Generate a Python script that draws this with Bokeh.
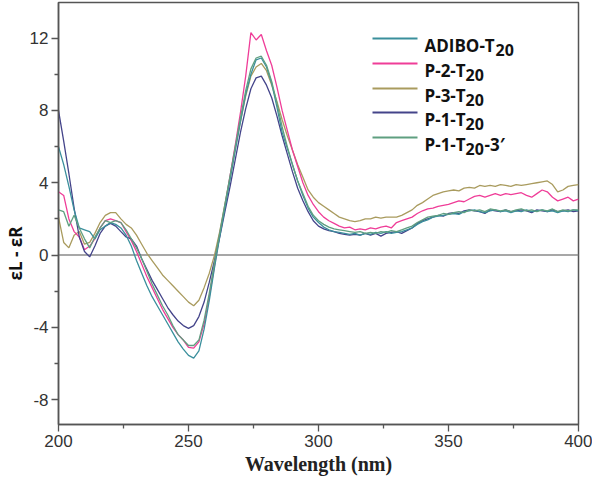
from bokeh.plotting import figure
from bokeh.models import Range1d, FixedTicker, Span, Label, Title
from bokeh.embed import file_html
from bokeh.resources import INLINE

# ---------------- data ----------------
wavelength = list(range(200, 401, 2))

adibo_t20 = [
    6.0, 5.0, 3.8, 2.5, 1.5, 1.4, 1.3, 0.9, 1.4, 1.6,
    1.8, 1.7, 1.5, 1.1, 0.5, -0.3, -1.0, -1.7, -2.3, -2.8,
    -3.3, -3.8, -4.3, -4.8, -5.2, -5.55, -5.7, -5.3, -4.1, -2.5,
    -0.7, 1.0, 2.6, 4.2, 5.8, 7.4, 8.9, 10.0, 10.8, 10.9,
    10.4, 9.5, 8.2, 6.8, 5.9, 5.0, 4.1, 3.3, 2.6, 2.1,
    1.8, 1.55, 1.4, 1.3, 1.25, 1.2, 1.15, 1.2, 1.1, 1.2,
    1.15, 1.25, 1.2, 1.3, 1.2, 1.25, 1.3, 1.4, 1.5, 1.7,
    1.85, 1.95, 2.1, 2.15, 2.2, 2.25, 2.3, 2.25, 2.4, 2.45,
    2.5, 2.4, 2.35, 2.45, 2.5, 2.4, 2.45, 2.35, 2.45, 2.4,
    2.5, 2.4, 2.45, 2.5, 2.4, 2.45, 2.35, 2.45, 2.4, 2.5,
    2.45,
]

p2_t20 = [
    3.5, 3.3, 2.0, 1.3, 1.0, 0.3, 0.5, 0.9, 1.5, 1.9,
    2.0, 1.9, 1.8, 1.3, 0.8, 0.2, -0.5, -1.2, -1.8, -2.4,
    -3.0, -3.5, -4.0, -4.4, -4.7, -5.1, -5.15, -4.8, -3.8, -2.3,
    -0.6, 1.1, 2.7, 4.4, 6.1, 7.9, 9.9, 12.3, 11.9, 12.2,
    11.3, 10.5, 9.3, 8.0, 6.9, 5.8, 4.9, 4.0, 3.3, 2.8,
    2.4, 2.1, 1.9, 1.75, 1.6, 1.5, 1.55, 1.4, 1.45, 1.4,
    1.5, 1.45, 1.55, 1.6, 1.5, 1.8, 1.9, 2.0, 2.1, 2.3,
    2.45, 2.55, 2.6, 2.7, 2.75, 2.8, 2.9, 3.0, 2.95, 3.1,
    3.25, 3.3, 3.2, 3.3, 3.4, 3.3, 3.4, 3.35, 3.4, 3.45,
    3.3, 3.2, 3.4, 3.6, 3.5, 3.2, 3.0, 3.1, 3.2, 3.0,
    3.1,
]

p3_t20 = [
    2.1, 0.7, 0.4, 1.1, 1.3, 0.6, 0.7, 1.2, 1.8, 2.2,
    2.35, 2.35, 2.0, 1.7, 1.5, 1.1, 0.6, 0.1, -0.3, -0.7,
    -1.1, -1.4, -1.7, -2.0, -2.3, -2.6, -2.8, -2.5, -1.8, -1.0,
    0.0, 1.3, 2.8, 4.3, 5.9, 7.4, 8.8, 9.9, 10.4, 10.6,
    10.2, 9.4, 8.5, 7.5, 6.6, 5.8, 5.0, 4.3, 3.6, 3.2,
    2.9, 2.7, 2.5, 2.3, 2.1, 2.0, 1.9, 1.85, 1.9, 2.0,
    2.0, 2.1, 2.05, 2.1, 2.1, 2.1, 2.2, 2.35, 2.5, 2.75,
    2.9, 3.1, 3.3, 3.4, 3.5, 3.55, 3.6, 3.55, 3.7, 3.75,
    3.7, 3.85, 3.8, 3.85, 3.8, 3.9, 3.85, 3.8, 3.9, 3.85,
    3.9, 3.95, 4.0, 4.05, 4.1, 3.9, 3.5, 3.6, 3.8, 3.85,
    3.9,
]

p1_t20 = [
    8.0, 6.3, 4.5, 2.6, 1.0, 0.2, -0.1, 0.5, 1.2, 1.6,
    1.75, 1.6, 1.3, 1.0, 0.9, 0.5, -0.2, -0.8, -1.4, -1.9,
    -2.4, -2.9, -3.3, -3.65, -3.9, -4.05, -3.9, -3.4, -2.6, -1.5,
    -0.3, 1.0, 2.4, 3.8, 5.3, 6.8, 8.1, 9.2, 9.8, 9.9,
    9.4, 8.7, 7.7, 6.6, 5.6, 4.6, 3.7, 3.0, 2.4, 1.9,
    1.6, 1.45, 1.35, 1.3, 1.2, 1.15, 1.1, 1.15, 1.1, 1.2,
    1.1, 1.2, 1.05, 1.2, 1.25, 1.3, 1.2, 1.35, 1.5, 1.75,
    1.9, 2.0, 2.1, 2.2, 2.15, 2.3, 2.35, 2.3, 2.45, 2.5,
    2.45, 2.4, 2.3, 2.5, 2.45, 2.4, 2.5, 2.4, 2.45, 2.5,
    2.45, 2.35, 2.5, 2.45, 2.4, 2.5, 2.4, 2.45, 2.5, 2.4,
    2.45,
]

p1_t20_3 = [
    2.5, 2.4, 1.6, 2.2, 1.5, 0.9, 0.4, 1.0, 1.5, 1.9,
    1.8, 1.9, 1.8, 1.4, 0.9, 0.4, -0.2, -0.9, -1.6, -2.2,
    -2.8, -3.3, -3.9, -4.4, -4.7, -5.0, -5.0, -4.7, -3.6, -2.1,
    -0.4, 1.2, 2.8, 4.4, 6.0, 7.6, 9.1, 10.3, 10.9, 11.0,
    10.5, 9.6, 8.4, 7.1, 6.0, 5.0, 4.1, 3.4, 2.7, 2.2,
    1.9, 1.7, 1.55, 1.45, 1.4, 1.35, 1.3, 1.25, 1.3, 1.2,
    1.25, 1.2, 1.3, 1.25, 1.35, 1.3, 1.4, 1.5, 1.6, 1.8,
    1.95, 2.1, 2.15, 2.2, 2.3, 2.25, 2.35, 2.4, 2.35, 2.5,
    2.45, 2.5, 2.4, 2.55, 2.5, 2.45, 2.5, 2.4, 2.5, 2.55,
    2.45, 2.5, 2.4, 2.5, 2.45, 2.55, 2.4, 2.5, 2.45, 2.5,
    2.5,
]

legend_main = ["ADIBO-T", "P-2-T", "P-3-T", "P-1-T", "P-1-T"]
legend_sub = ["20", "20", "20", "20", "20"]
legend_tail = ["", "", "", "", "-3\u2032"]

x_ticks = [200, 250, 300, 350, 400]
x_minor = [225, 275, 325, 375]
y_ticks = [-8, -4, 0, 4, 8, 12]
y_minor = [-6, -2, 2, 6, 10]

# ---------------- layout ----------------
W, H = 592, 480
BL, BR, BT, BB = 58, 14, 2, 56
X0, X1 = 200, 400
Y0, Y1 = -9.37, 13.97
FW = W - BL - BR
FH = H - BT - BB


def dx(px):
    return X0 + (px - BL) / FW * (X1 - X0)


def dy(py):
    return Y1 - (py - BT) / FH * (Y1 - Y0)


p = figure(width=W, height=H, x_range=Range1d(X0, X1), y_range=Range1d(Y0, Y1),
           output_backend="svg", toolbar_location=None,
           min_border_left=BL, min_border_right=BR,
           min_border_top=BT, min_border_bottom=BB)

p.background_fill_color = "white"
p.border_fill_color = "white"
p.outline_line_color = "#555555"
p.outline_line_width = 1.5
p.xgrid.grid_line_color = None
p.ygrid.grid_line_color = None

p.xaxis.ticker = FixedTicker(ticks=x_ticks, minor_ticks=x_minor)
p.yaxis.ticker = FixedTicker(ticks=y_ticks, minor_ticks=y_minor)
p.yaxis.major_label_overrides = {t: str(t) for t in y_ticks}
for ax in (p.xaxis[0], p.yaxis[0]):
    ax.axis_line_color = "#555555"
    ax.axis_line_width = 1.5
    ax.major_tick_line_color = "#555555"
    ax.minor_tick_line_color = "#555555"
    ax.major_tick_line_width = 1.3
    ax.minor_tick_line_width = 1.3
    ax.major_tick_in = 0
    ax.major_tick_out = 7
    ax.minor_tick_in = 0
    ax.minor_tick_out = 4
    ax.major_label_text_font = "Liberation Sans"
    ax.major_label_text_font_size = "17px"
    ax.major_label_text_color = "#333333"
p.xaxis.major_label_standoff = 3
p.yaxis.major_label_standoff = 3

p.xaxis.axis_label = "Wavelength (nm)"
p.xaxis.axis_label_text_font = "Liberation Serif"
p.xaxis.axis_label_text_font_style = "bold"
p.xaxis.axis_label_text_font_size = "20px"
p.xaxis.axis_label_text_color = "#222222"
p.xaxis.axis_label_standoff = 3

ytitle = Title(text="\u03b5L - \u03b5R", align="left", offset=144, standoff=0,
               text_font="Open Sans", text_font_style="bold",
               text_font_size="17px", text_color="#111111")
p.add_layout(ytitle, "left")

zero = Span(location=0, dimension="width", line_color="#8a8a8a", line_width=1.5,
            level="underlay")
p.add_layout(zero)

series = [
    (adibo_t20, "#3a8f9c"),
    (p2_t20, "#ef3d98"),
    (p3_t20, "#a99b5e"),
    (p1_t20, "#44448a"),
    (p1_t20_3, "#5f9f80"),
]

for vals, col in [series[2], series[1], series[3], series[0], series[4]]:
    p.line(wavelength, vals, line_color=col, line_width=1.3)

# ---------------- manual legend ----------------
row_y = [38, 63, 88, 112, 137]
main_w = {"ADIBO-T": 71, "P-2-T": 41, "P-3-T": 41, "P-1-T": 41}
for (vals, col), ry, m, s, t in zip(series, row_y, legend_main, legend_sub, legend_tail):
    p.line([dx(372), dx(417)], [dy(ry), dy(ry)], line_color=col, line_width=2)
    p.add_layout(Label(x=dx(424), y=dy(ry + 7), text=m, text_font="Open Sans",
                       text_font_style="bold", text_font_size="17px",
                       text_color="#111111", text_baseline="alphabetic",
                       text_align="left"))
    sx = 424 + main_w[m]
    p.add_layout(Label(x=dx(sx), y=dy(ry + 11), text=s, text_font="Open Sans",
                       text_font_style="bold", text_font_size="16px",
                       text_color="#111111", text_baseline="alphabetic",
                       text_align="left"))
    if t:
        p.add_layout(Label(x=dx(sx + 19), y=dy(ry + 7), text=t, text_font="Open Sans",
                           text_font_style="bold", text_font_size="17px",
                           text_color="#111111", text_baseline="alphabetic",
                           text_align="left"))

open("out.html", "w").write(file_html(p, INLINE))
